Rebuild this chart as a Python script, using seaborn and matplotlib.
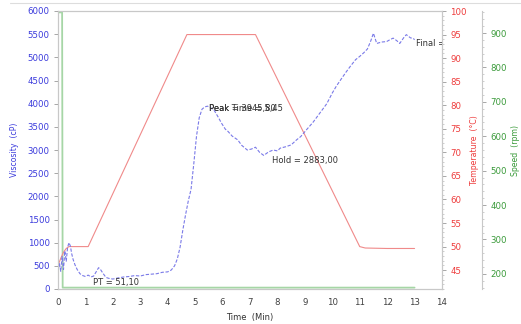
import matplotlib
matplotlib.use("Agg")
import matplotlib.pyplot as plt
from matplotlib.ticker import AutoMinorLocator
from matplotlib.lines import Line2D
import seaborn as sns
import pandas as pd

# Viscosity trace (cP) against time (min)
visc_time = [0.00, 0.05, 0.10, 0.15, 0.20, 0.25, 0.30, 0.35, 0.40, 0.45, 0.50, 0.55,
             0.62, 0.70, 0.80, 0.90, 1.00, 1.10, 1.20, 1.30, 1.40, 1.48, 1.55, 1.65,
             1.75, 1.85, 2.00, 2.20, 2.40, 2.60, 2.80, 3.00, 3.20, 3.40, 3.60, 3.80,
             4.00, 4.13, 4.25, 4.35, 4.45, 4.55, 4.65, 4.75, 4.85, 4.95, 5.05, 5.15,
             5.25, 5.35, 5.45, 5.55, 5.70, 5.85, 5.95, 6.10, 6.20, 6.35, 6.55, 6.70,
             6.90, 7.05, 7.20, 7.35, 7.50, 7.68, 7.85, 8.00, 8.10, 8.30, 8.50, 8.70,
             8.85, 9.05, 9.30, 9.55, 9.80, 10.00, 10.15, 10.30, 10.50, 10.65, 10.85,
             11.00, 11.15, 11.28, 11.40, 11.50, 11.62, 11.80, 11.98, 12.10, 12.22,
             12.35, 12.46, 12.60, 12.70, 12.85, 12.95, 13.00]
visc_cp = [350, 560, 380, 700, 420, 820, 600, 900, 1000, 930, 760, 640,
           520, 420, 330, 290, 270, 300, 260, 280, 380, 460, 420, 330,
           250, 230, 215, 240, 260, 270, 290, 280, 310, 320, 330, 360,
           370, 410, 500, 650, 900, 1270, 1600, 1900, 2150, 2700, 3300, 3700,
           3880, 3930, 3946, 3920, 3850, 3700, 3590, 3450, 3400, 3300, 3220, 3100,
           3000, 3020, 3060, 2950, 2883, 2960, 3000, 2980, 3040, 3070, 3110, 3220,
           3290, 3430, 3600, 3800, 4000, 4230, 4380, 4510, 4680, 4800, 4950,
           5020, 5100, 5180, 5350, 5520, 5300, 5330, 5340, 5380, 5415,
           5360, 5300, 5420, 5490, 5420, 5410, 5380]

# Temperature profile (°C)
temp_time = [0.00, 0.10, 0.20, 0.30, 0.40, 1.00, 1.10, 4.70, 7.20, 11.00, 11.20, 12.00, 13.00]
temp_c = [46.0, 47.5, 48.8, 49.6, 50.0, 50.0, 50.0, 95.0, 95.0, 50.0, 49.7, 49.6, 49.6]

# Paddle speed (rpm)
speed_time = [0.00, 0.15, 0.17, 13.00]
speed_rpm = [960, 960, 160, 160]

# Axis ticks
x_ticks = list(range(0, 15))
visc_ticks = list(range(0, 6001, 500))
temp_ticks = list(range(45, 101, 5))
speed_ticks = list(range(200, 901, 100))

# Result annotations
pt_label = "PT = 51,10"
peak_label = "Peak = 3945,80"
peak_time_label = "Peak Time = 5,45"
hold_label = "Hold = 2883,00"
final_label = "Final = 5380,00"

visc_df = pd.DataFrame({"t": visc_time, "v": visc_cp})
temp_df = pd.DataFrame({"t": temp_time, "T": temp_c})
speed_df = pd.DataFrame({"t": speed_time, "s": speed_rpm})

sns.set_style("white")
plt.rcParams["font.family"] = ["DejaVu Sans"]

BLUE = "#3a3adc"
RED = "#ee3b3b"
GREEN = "#3a9a3a"
FRAME = "#c8c8c8"

fig = plt.figure(figsize=(5.21, 3.24), dpi=100)
ax = fig.add_axes([58 / 521, 35 / 324, 384 / 521, 278 / 324])
ax_t = ax.twinx()
ax_s = ax.twinx()
ax_s.spines["right"].set_position(("axes", 1.104))

# Series
sns.lineplot(data=speed_df, x="t", y="s", ax=ax_s, color="#a6d6a6", linewidth=1.3)
sns.lineplot(data=temp_df, x="t", y="T", ax=ax_t, color="#f08a8a", linewidth=0.8)
sns.lineplot(data=visc_df, x="t", y="v", ax=ax, color="#7a7ae8", linewidth=0.8,
             linestyle=(0, (3, 1.5)))

# Viscosity axis drawn above its twins
ax.set_zorder(3)
ax.patch.set_visible(False)
ax_s.set_zorder(1)
ax_t.set_zorder(2)

# Limits
ax.set_xlim(0, 14)
ax.set_ylim(0, 6000)
ax_t.set_ylim(41, 100)
ax_s.set_ylim(156, 964)

# Ticks
ax.set_xticks(x_ticks)
ax.set_yticks(visc_ticks)
ax_t.set_yticks(temp_ticks)
ax_s.set_yticks(speed_ticks)
ax_t.yaxis.set_minor_locator(AutoMinorLocator(5))
ax_s.yaxis.set_minor_locator(AutoMinorLocator(5))

ax.tick_params(axis="x", colors="#404040", labelsize=6.2, length=2.5, width=0.6,
               direction="out", color="#999999", pad=4)
ax.tick_params(axis="y", labelcolor=BLUE, labelsize=6.2, length=3, width=0.6,
               direction="out", color="#999999", pad=3, left=True)
for a, c in ((ax_t, RED), (ax_s, GREEN)):
    a.tick_params(axis="y", which="major", labelcolor=c, labelsize=6.2, length=3,
                  width=0.6, direction="out", color="#999999", pad=3, right=True)
    a.tick_params(axis="y", which="minor", length=1.5, width=0.5, color="#bbbbbb",
                  right=True)

ax.set_xlabel("Time  (Min)", fontsize=6, color="#333333", labelpad=4)
ax.set_ylabel("Viscosity  (cP)", fontsize=5.6, color=BLUE, labelpad=6)
ax_t.set_ylabel("Temperature  (°C)", fontsize=5.6, color=RED, labelpad=2)
ax_s.set_ylabel("Speed  (rpm)", fontsize=5.6, color=GREEN, labelpad=3)

for a in (ax, ax_t, ax_s):
    for sp in a.spines.values():
        sp.set_color(FRAME)
        sp.set_linewidth(0.8)
ax_s.spines["left"].set_visible(False)
ax_s.spines["top"].set_visible(False)
ax_s.spines["bottom"].set_visible(False)

# Result labels
txt = dict(fontsize=6, color="#333333", zorder=5)
ax.text(1.27, 150, pt_label, ha="left", va="center", **txt)
ax.text(5.5, 3900, peak_label, ha="left", va="center", **txt)
ax.text(5.5, 3900, peak_time_label, ha="left", va="center", **txt)
ax.text(7.82, 2770, hold_label, ha="left", va="center", **txt)
ax.text(13.05, 5290, final_label, ha="left", va="center", clip_on=True, **txt)

# Thin rule along the top of the figure
fig.add_artist(Line2D([10 / 521, 1.0], [1 - 3 / 324, 1 - 3 / 324],
                      color="#dddddd", linewidth=0.8))

fig.savefig("out.png", dpi=100)
